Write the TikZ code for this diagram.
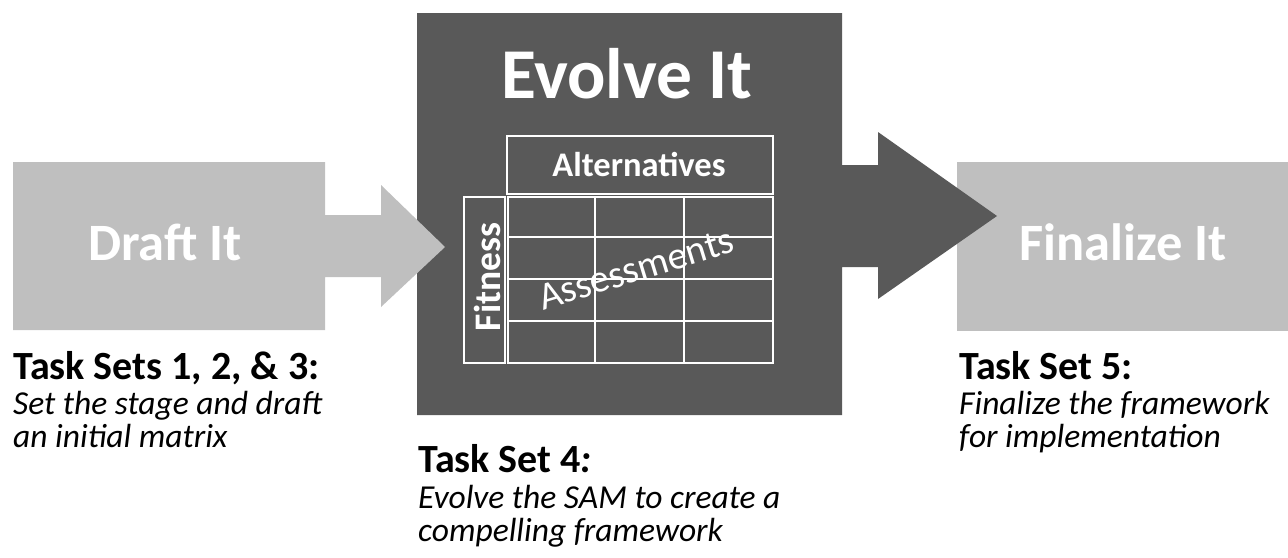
\documentclass[tikz,border=0pt]{standalone}
\usepackage{fontspec}
\setmainfont{Carlito}
\definecolor{lightbox}{HTML}{BFBFBF}
\definecolor{darkbox}{HTML}{595959}
\begin{document}
\begin{tikzpicture}[x=1pt,y=-1pt,
  grid/.style={draw=white,line width=1.8pt},
  stagelabel/.style={text=white,font=\bfseries\fontsize{52.5}{62}\selectfont,inner sep=0pt,anchor=base},
  heading/.style={text=black,font=\bfseries\fontsize{40}{48}\selectfont,inner sep=0pt,anchor=base west},
  note/.style={text=black,font=\itshape\fontsize{33.5}{40}\selectfont,inner sep=0pt,anchor=base west}]
\useasboundingbox (0,0) rectangle (1288,557);

% final stage box
\fill[lightbox] (957,162) rectangle (1288,331);

% evolve stage: square with arrow into the final stage
\fill[darkbox] (417,13) -- (842,13) -- (842,165) -- (878,165) -- (878,132)
  -- (997,216) -- (878,299) -- (878,267) -- (842,267) -- (842,415)
  -- (417,415) -- cycle;

% draft stage: box with arrow into the evolve stage
\fill[lightbox] (13,162) -- (325,162) -- (325,215) -- (381,215) -- (381,185)
  -- (445,247) -- (381,307) -- (381,277) -- (325,277) -- (325,330)
  -- (13,330) -- cycle;

% matrix
\draw[grid] (507,136) rectangle (773,194);
\draw[grid] (464,197) rectangle (505,363);
\draw[grid] (508,197) rectangle (773,363);
\draw[grid] (595,197) -- (595,363) (684,197) -- (684,363);
\draw[grid] (508,237) -- (773,237) (508,279) -- (773,279) (508,321) -- (773,321);

% stage titles
\node[stagelabel,font=\bfseries\fontsize{71.5}{84}\selectfont] (evolve) at (627,98) {Evolve It};
\node[stagelabel] (draft) at (165,260) {Draft It};
\node[stagelabel] (final) at (1123,260) {Finalize It};

% matrix labels
\node[text=white,font=\bfseries\fontsize{34.5}{41}\selectfont,inner sep=0pt,anchor=base] (alt) at (639,176) {Alternatives};
\node[text=white,font=\bfseries\fontsize{37.5}{44}\selectfont,inner sep=0pt,rotate=90] (fit) at (487,277) {Fitness};
\node[text=white,font=\fontsize{39}{46}\selectfont,inner sep=0pt,rotate=17] (assess) at (636,269) {Assessments};

% task set descriptions
\node[heading] (h1) at (13,379) {Task Sets 1, 2, \& 3:};
\node[note] (n1a) at (13,414) {Set the stage and draft};
\node[note] (n1b) at (13,447) {an initial matrix};

\node[heading] (h4) at (418,472) {Task Set 4\textit{:}};
\node[note] (n4a) at (418,508) {Evolve the SAM to create a};
\node[note] (n4b) at (418,541) {compelling framework};

\node[heading] (h5) at (959,379) {Task Set 5:};
\node[note] (n5a) at (959,414) {Finalize the framework};
\node[note] (n5b) at (959,447) {for implementation};
\end{tikzpicture}
\end{document}
